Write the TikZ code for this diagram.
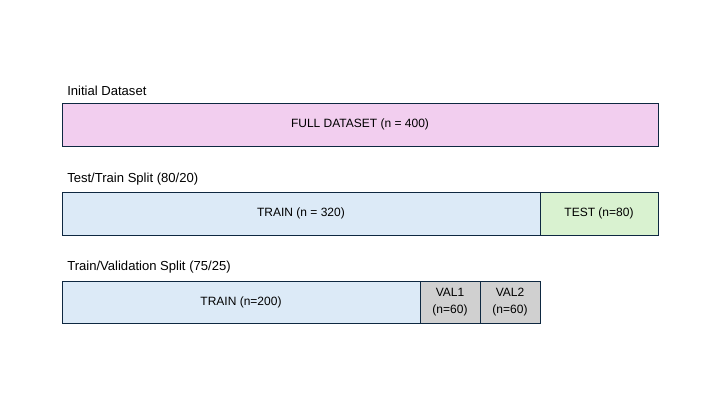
\documentclass[tikz,border=0pt]{standalone}
\usepackage{fontspec}
\setmainfont{Liberation Sans}
\definecolor{edge}{HTML}{0E2841}
\definecolor{pinkfill}{HTML}{F2CEEF}
\definecolor{bluefill}{HTML}{DCEAF7}
\definecolor{greenfill}{HTML}{D9F2D0}
\definecolor{grayfill}{HTML}{D0D0D0}
\begin{document}
\begin{tikzpicture}[x=0.75pt,y=-0.75pt,
  seg/.style={draw=edge,line width=0.75pt,inner sep=0pt,font=\fontsize{9}{13}\selectfont,align=center},
  heading/.style={anchor=west,inner sep=0pt,font=\fontsize{9.8}{12}\selectfont}]
\useasboundingbox (0,0) rectangle (720,405);
% stage 1
\node[heading] (h1) at (67,91) {Initial Dataset};
\node[seg,fill=pinkfill,minimum width=596*0.75pt,minimum height=43*0.75pt] (full) at (360,124.5) {FULL DATASET (n = 400)};
% stage 2
\node[heading] (h2) at (67,179) {Test/Train Split (80/20)};
\node[seg,fill=bluefill,minimum width=478*0.75pt,minimum height=43*0.75pt] (train1) at (301,213.5) {TRAIN (n = 320)};
\node[seg,fill=greenfill,minimum width=118*0.75pt,minimum height=43*0.75pt] (test) at (599,213.5) {TEST (n=80)};
% stage 3
\node[heading] (h3) at (67,267) {Train/Validation Split (75/25)};
\node[seg,fill=bluefill,minimum width=358*0.75pt,minimum height=42*0.75pt] (train2) at (241,302) {TRAIN (n=200)};
\node[seg,fill=grayfill,minimum width=60*0.75pt,minimum height=42*0.75pt] (val1) at (450,302) {VAL1\\(n=60)};
\node[seg,fill=grayfill,minimum width=60*0.75pt,minimum height=42*0.75pt] (val2) at (510,302) {VAL2\\(n=60)};
\end{tikzpicture}
\end{document}
